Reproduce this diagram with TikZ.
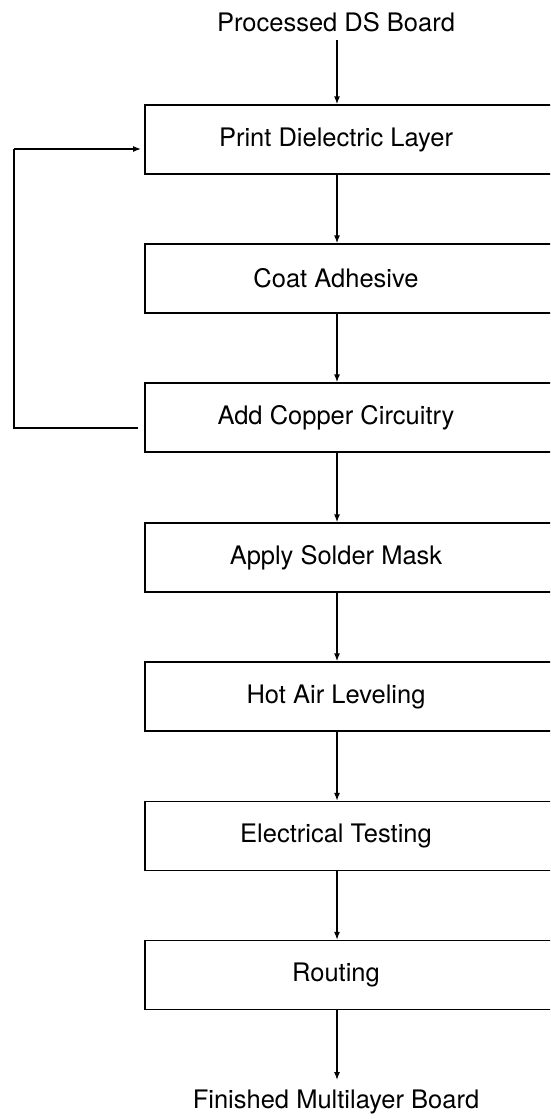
\documentclass[tikz,border=0pt]{standalone}
\usepackage{fontspec}
\setmainfont{TeX Gyre Heros}
\usetikzlibrary{arrows.meta}
\tikzset{
  stepbox/.style={draw, line width=1.3pt, rectangle, minimum width=415pt, minimum height=69pt, inner sep=0pt},
  steptext/.style={inner sep=0pt, font=\fontsize{25.5}{30}\selectfont},
  conn/.style={line width=1.3pt, -{Latex[length=8pt,width=6pt]}},
  plain/.style={line width=1.3pt}
}
\begin{document}
\begin{tikzpicture}[x=1pt,y=-1pt]
\useasboundingbox (0,0) rectangle (550,1119);
\begin{scope}
\clip (0,0) rectangle (550,1119);
\node[stepbox] (b1) at (352.5,139.5) {};
\node[stepbox] (b2) at (352.5,278.5) {};
\node[stepbox] (b3) at (352.5,417.5) {};
\node[stepbox] (b4) at (352.5,557.5) {};
\node[stepbox] (b5) at (352.5,696.5) {};
\node[stepbox] (b6) at (352.5,836) {};
\node[stepbox] (b7) at (352.5,975) {};
\end{scope}
\node[steptext] (t0) at (336,22) {Processed DS Board};
\node[steptext] (t1) at (336,139.5) {Print Dielectric Layer};
\node[steptext] (t2) at (336,278.5) {Coat Adhesive};
\node[steptext] (t3) at (336,417.5) {Add Copper Circuitry};
\node[steptext] (t4) at (336,557.5) {Apply Solder Mask};
\node[steptext] (t5) at (336,696.5) {Hot Air Leveling};
\node[steptext] (t6) at (336,836) {Electrical Testing};
\node[steptext] (t7) at (336,975) {Routing};
\node[steptext] (t8) at (336,1102) {Finished Multilayer Board};
\coordinate (px) at (337,0);
\coordinate (in0) at (337,40);
\coordinate (out8) at (337,1080);
\draw[conn] (in0) -- (px |- b1.north);
\draw[conn] (px |- b1.south) -- (px |- b2.north);
\draw[conn] (px |- b2.south) -- (px |- b3.north);
\draw[conn] (px |- b3.south) -- (px |- b4.north);
\draw[conn] (px |- b4.south) -- (px |- b5.north);
\draw[conn] (px |- b5.south) -- (px |- b6.north);
\draw[conn] (px |- b6.south) -- (px |- b7.north);
\draw[conn] (px |- b7.south) -- (out8);
\coordinate (fbstart) at (138,428);
\coordinate (fbend) at (141,149);
\draw[plain] (fbstart) -- (14,428) -- (14,149) coordinate (fbcorner);
\draw[conn] (fbcorner) -- (fbend);
\end{tikzpicture}
\end{document}
